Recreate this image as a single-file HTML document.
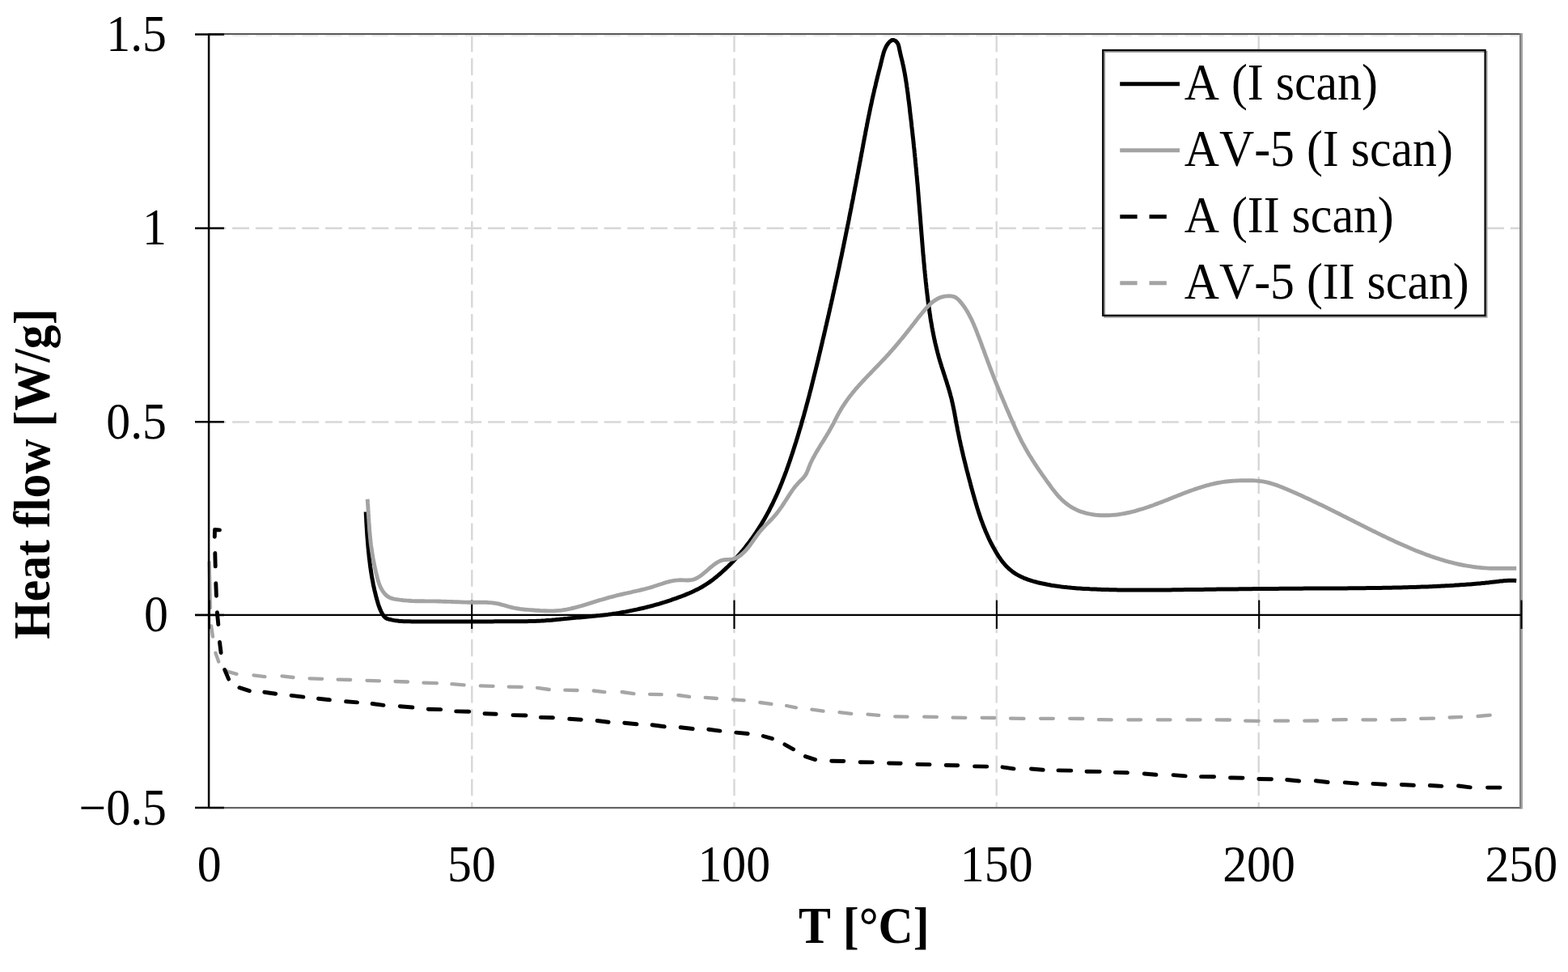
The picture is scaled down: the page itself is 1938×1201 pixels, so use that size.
<!DOCTYPE html>
<html lang="en"><head><meta charset="utf-8"><title>DSC heat flow</title>
<style>
html,body{margin:0;padding:0;background:#fff;}
body{width:1938px;height:1201px;overflow:hidden;}
svg{display:block;}
text{font-family:"Liberation Serif",serif;font-size:59.8px;fill:#000;font-kerning:none;font-variant-ligatures:none;}
.b{font-weight:bold;font-size:59.8px;}
</style></head>
<body>
<svg width="1938" height="1201" viewBox="0 0 1938 1201">
<rect width="1938" height="1201" fill="#fff"/>
<g fill="none" stroke-dasharray="20.9 7.82">
<path d="M258.4 282.0H1880.0" stroke="#d6d6d6" stroke-width="2.3"/>
<path d="M258.4 521.4H1880.0" stroke="#d8d8d8" stroke-width="2.5"/>
<path d="M583.3 43.4V998.0" stroke="#d8d8d8" stroke-width="2.4"/>
<path d="M907.5 43.4V998.0" stroke="#d8d8d8" stroke-width="2.4"/>
<path d="M1231.7 43.4V998.0" stroke="#d8d8d8" stroke-width="2.3"/>
<path d="M1555.7 43.4V998.0" stroke="#d4d4d4" stroke-width="2.2"/>
</g>
<path d="M258.6 694.8L260.0 751.2M261.1 773.5L263.0 786.5M266.4 806.7L270.2 817.5M280.9 829.7L292.5 832.8M313.5 834.4L327.4 836.1M348.5 835.4L362.4 837.0M382.6 838.3L398.2 838.8M417.6 839.7L433.2 840.0M453.5 840.8L469.0 841.3M488.5 842.0L504.0 842.5M523.5 843.7L539.9 844.2M558.4 845.1L573.6 846.4M593.8 847.4L609.6 847.8M628.8 848.6L644.8 848.8M664.0 849.9L678.7 852.0M698.3 852.6L713.6 853.0M733.7 853.5L747.4 855.1M768.7 855.0L783.4 857.1M803.0 857.8L817.7 858.2M838.4 859.0L852.0 860.9M871.7 861.8L885.8 863.0M906.0 864.4L919.6 865.4M939.3 868.0L953.4 869.9M972.1 872.0L983.9 874.3M1003.4 876.7L1017.5 878.6M1037.5 880.1L1052.2 881.8M1072.5 882.6L1086.2 883.8M1106.2 885.3L1121.5 885.7M1142.2 885.7L1157.9 885.9M1177.6 886.7L1193.3 886.9M1213.6 886.8L1229.2 887.0M1249.0 887.7L1265.5 887.9M1286.1 887.8L1301.9 887.8M1322.2 887.8L1338.3 888.0M1357.9 889.2L1373.7 889.4M1394.4 889.3L1410.1 889.3M1430.8 889.3L1446.5 889.3M1467.4 889.3L1483.6 889.3M1503.6 889.3L1520.0 889.5M1539.2 890.6L1555.7 890.8M1575.8 890.7L1592.1 890.7M1612.3 890.7L1628.2 890.5M1648.0 889.4L1663.8 889.2M1684.4 889.3L1700.2 889.3M1720.4 889.3L1736.4 889.1M1756.2 887.9L1772.0 887.7M1791.6 886.5L1806.1 885.8M1826.6 885.0L1841.7 883.7" stroke="#a6a6a6" stroke-width="4.3" stroke-linecap="round" stroke-linejoin="round" fill="none"/>
<path d="M258.4 44H1880.0" stroke="#e8e8e8" stroke-width="2" stroke-dasharray="20.3 8.42" fill="none"/>
<path d="M258.4 42H1882" stroke="#585858" stroke-width="2.2" fill="none"/>
<path d="M258.4 998.1H1882" stroke="#666" stroke-width="2.2" fill="none"/>
<path d="M1879 41V999.2" stroke="#808080" stroke-width="2" fill="none"/>
<path d="M1881 41V999.2" stroke="#a4a4a4" stroke-width="2" fill="none"/>
<g stroke="#000" fill="none">
<path d="M258.1 41.4V999.0" stroke-width="2.5"/>
<path d="M241.0 759.8H1880.0" stroke-width="2.3"/>
<path d="M241 42.5H277" stroke-width="2.5"/>
<path d="M241 281.9H277" stroke-width="2.5"/>
<path d="M241 521.3H277" stroke-width="2.5"/>
<path d="M241 759.9H277" stroke-width="2.5"/>
<path d="M241 998.1H277" stroke-width="2.5"/>
<path d="M258.9 741.6V777" stroke-width="2.1"/>
<path d="M583.2 741.6V777" stroke-width="2.1"/>
<path d="M907.5 741.6V777" stroke-width="2.1"/>
<path d="M1231.9 741.6V777" stroke-width="2.1"/>
<path d="M1556.2 741.6V777" stroke-width="2.1"/>
<path d="M1880.5 741.6V777" stroke-width="2.1"/>
</g>
<g fill="none" stroke-width="5.0" stroke-linejoin="round">
<path d="M271.5 654.9L265.5 654.5L265.3 663.2M265.8 683.5L266.2 699.9M266.8 720.8L267.4 736.2M268.4 756.8L269.8 771.5M271.5 793.5L273.1 806.5M277.7 827.5L282.6 839.1M295.9 849.7L308.3 853.7M326.8 855.3L340.7 857.2M360.1 859.4L374.9 861.1M393.5 863.2L407.4 864.8M427.6 866.8L441.5 867.9M460.1 869.5L474.0 871.4M494.3 872.7L509.9 874.0M529.3 876.3L544.7 876.6M563.7 878.9L579.8 879.3M599.0 881.7L613.1 882.3M634.0 883.6L650.0 884.0M668.3 886.4L683.5 886.8M703.7 888.3L718.2 889.2M738.1 890.5L752.1 892.2M771.8 893.2L786.9 894.7M806.1 895.7L821.2 897.8M841.1 898.8L856.2 900.5M875.8 901.2L889.9 903.1M909.8 905.1L924.2 906.5M943.3 909.5L954.5 912.7M969.9 919.9L980.6 925.8M995.4 934.6L1007.6 938.6M1027.7 940.3L1042.8 940.5M1063.1 941.7L1078.2 941.9M1098.5 943.0L1113.2 943.2M1133.8 944.4L1149.0 944.6M1169.2 945.5L1183.7 945.7M1204.6 946.9L1219.7 947.1M1239.0 947.8L1253.0 949.9M1274.5 950.0L1289.2 951.2M1308.0 951.9L1323.8 952.1M1343.0 953.2L1359.2 953.4M1378.3 954.4L1393.5 954.8M1414.3 956.0L1428.9 957.3M1450.1 957.6L1465.2 958.9M1484.5 959.6L1500.6 959.8M1520.5 961.0L1536.0 961.2M1555.8 962.5L1571.5 962.7M1590.7 963.5L1605.6 965.0M1626.3 964.8L1641.2 966.5M1662.2 966.9L1677.3 968.1M1696.9 968.4L1712.1 969.3M1732.3 969.5L1747.4 970.3M1767.3 970.5L1781.8 971.4M1802.5 971.0L1817.2 972.9M1838.5 973.1L1854.0 973.1" stroke="#000" stroke-width="4.9" stroke-linecap="round"/>
<path d="M452.2 632.5L452.3 635.0L452.4 637.5L452.6 640.0L452.7 642.5L452.8 645.0L453.0 647.5L453.1 650.0L453.3 652.5L453.4 655.0L453.6 657.5L453.7 660.0L453.9 662.5L454.1 665.0L454.3 667.4L454.5 669.9L454.7 672.4L454.9 674.9L455.1 677.4L455.4 679.9L455.6 682.4L455.9 684.9L456.1 687.4L456.4 689.9L456.7 692.3L457.0 694.8L457.3 697.3L457.6 699.8L458.0 702.3L458.3 704.7L458.7 707.2L459.1 709.7L459.5 712.2L459.9 714.6L460.4 717.1L460.9 719.5L461.3 722.0L461.8 724.4L462.4 726.9L462.9 729.3L463.5 731.7L464.1 734.2L464.7 736.6L465.3 739.0L466.0 741.4L466.7 743.8L467.4 746.2L468.2 748.6L469.1 751.0L470.0 753.3L471.0 755.6L472.2 757.8L473.5 760.0L475.0 762.0L476.9 763.6L479.1 764.6L481.5 765.3L484.0 765.9L486.4 766.4L488.9 766.8L491.4 767.1L493.8 767.4L496.3 767.5L498.8 767.7L501.3 767.7L503.8 767.8L506.3 767.8L508.9 767.9L511.4 767.9L513.9 767.9L516.4 767.9L518.9 768.0L521.4 768.0L523.9 768.0L526.4 768.0L528.9 768.0L531.4 768.0L533.9 768.1L536.4 768.1L538.9 768.1L541.4 768.1L543.9 768.1L546.4 768.1L548.9 768.1L551.4 768.1L553.9 768.1L556.4 768.1L558.9 768.1L561.4 768.1L563.9 768.1L566.4 768.1L568.9 768.0L571.4 768.0L573.9 768.0L576.4 768.0L578.9 768.0L581.4 768.0L583.9 768.0L586.4 768.0L588.9 768.0L591.4 767.9L593.9 767.9L596.4 767.9L598.9 767.9L601.4 767.9L603.9 767.9L606.4 767.9L608.9 767.9L611.4 767.8L613.9 767.8L616.4 767.8L618.9 767.8L621.4 767.8L623.9 767.8L626.4 767.8L628.9 767.8L631.4 767.8L633.9 767.8L636.4 767.8L638.9 767.8L641.4 767.8L643.9 767.7L646.4 767.7L648.9 767.7L651.4 767.7L653.9 767.6L656.4 767.6L658.9 767.5L661.4 767.4L663.9 767.3L666.4 767.2L668.9 767.1L671.4 766.9L673.9 766.8L676.4 766.6L678.9 766.4L681.4 766.2L683.9 765.9L686.4 765.7L688.9 765.4L691.4 765.2L693.8 764.9L696.3 764.7L698.8 764.4L701.3 764.2L703.8 763.9L706.3 763.7L708.8 763.5L711.3 763.3L713.8 763.1L716.2 762.9L718.7 762.7L721.2 762.4L723.7 762.2L726.2 762.0L728.7 761.8L731.2 761.6L733.7 761.3L736.1 761.1L738.6 760.8L741.1 760.6L743.6 760.3L746.1 760.0L748.6 759.7L751.0 759.4L753.5 759.0L756.0 758.7L758.5 758.3L761.0 758.0L763.4 757.6L765.9 757.2L768.4 756.7L770.8 756.3L773.3 755.9L775.8 755.4L778.2 754.9L780.7 754.4L783.1 753.9L785.6 753.4L788.0 752.9L790.5 752.3L792.9 751.8L795.4 751.2L797.8 750.6L800.2 750.0L802.7 749.4L805.1 748.8L807.5 748.1L809.9 747.4L812.3 746.8L814.7 746.1L817.1 745.3L819.5 744.6L821.9 743.9L824.3 743.1L826.7 742.3L829.0 741.6L831.4 740.7L833.8 739.9L836.1 739.1L838.5 738.2L840.8 737.4L843.1 736.5L845.5 735.6L847.8 734.6L850.1 733.7L852.4 732.7L854.7 731.7L856.9 730.7L859.2 729.6L861.4 728.5L863.6 727.4L865.8 726.2L868.0 725.0L870.1 723.7L872.2 722.4L874.3 721.0L876.4 719.6L878.5 718.1L880.5 716.7L882.5 715.1L884.5 713.6L886.4 712.0L888.3 710.3L890.3 708.7L892.2 707.0L894.0 705.3L895.9 703.6L897.7 701.9L899.5 700.2L901.3 698.4L903.1 696.7L904.8 694.9L906.6 693.1L908.3 691.2L910.0 689.4L911.6 687.5L913.3 685.7L914.9 683.8L916.5 681.9L918.1 680.0L919.7 678.0L921.3 676.1L922.8 674.1L924.3 672.1L925.8 670.2L927.3 668.1L928.8 666.1L930.2 664.1L931.7 662.0L933.1 660.0L934.5 657.9L935.8 655.8L937.2 653.7L938.5 651.6L939.9 649.5L941.2 647.4L942.4 645.2L943.7 643.1L945.0 640.9L946.2 638.8L947.4 636.6L948.6 634.4L949.8 632.2L951.0 630.0L952.1 627.7L953.2 625.5L954.4 623.3L955.5 621.0L956.5 618.8L957.6 616.5L958.7 614.2L959.7 612.0L960.7 609.7L961.7 607.4L962.7 605.1L963.7 602.8L964.6 600.5L965.6 598.1L966.5 595.8L967.4 593.5L968.3 591.2L969.2 588.8L970.1 586.5L971.0 584.1L971.9 581.8L972.7 579.4L973.5 577.1L974.4 574.7L975.2 572.3L976.0 570.0L976.8 567.6L977.6 565.2L978.4 562.8L979.2 560.5L980.0 558.1L980.7 555.7L981.5 553.3L982.3 550.9L983.0 548.5L983.8 546.2L984.5 543.8L985.3 541.4L986.0 539.0L986.7 536.6L987.4 534.2L988.1 531.8L988.9 529.4L989.6 527.0L990.3 524.6L990.9 522.2L991.6 519.8L992.3 517.4L993.0 515.0L993.7 512.6L994.3 510.2L995.0 507.8L995.7 505.4L996.3 502.9L997.0 500.5L997.6 498.1L998.3 495.7L998.9 493.3L999.6 490.9L1000.2 488.5L1000.8 486.0L1001.4 483.6L1002.1 481.2L1002.7 478.8L1003.3 476.4L1003.9 473.9L1004.5 471.5L1005.1 469.1L1005.7 466.7L1006.3 464.2L1006.9 461.8L1007.5 459.4L1008.1 457.0L1008.7 454.5L1009.3 452.1L1009.9 449.7L1010.5 447.2L1011.1 444.8L1011.7 442.4L1012.2 440.0L1012.8 437.5L1013.4 435.1L1014.0 432.7L1014.6 430.2L1015.1 427.8L1015.7 425.4L1016.3 422.9L1016.8 420.5L1017.4 418.0L1018.0 415.6L1018.6 413.2L1019.1 410.7L1019.7 408.3L1020.2 405.9L1020.8 403.4L1021.4 401.0L1021.9 398.6L1022.5 396.1L1023.1 393.7L1023.6 391.2L1024.2 388.8L1024.7 386.4L1025.3 383.9L1025.8 381.5L1026.4 379.0L1026.9 376.6L1027.5 374.1L1028.0 371.7L1028.6 369.3L1029.1 366.8L1029.6 364.4L1030.2 361.9L1030.7 359.5L1031.3 357.0L1031.8 354.6L1032.3 352.2L1032.9 349.7L1033.4 347.3L1033.9 344.8L1034.5 342.4L1035.0 339.9L1035.5 337.5L1036.0 335.0L1036.6 332.6L1037.1 330.2L1037.6 327.7L1038.1 325.3L1038.6 322.8L1039.1 320.4L1039.7 317.9L1040.2 315.5L1040.7 313.0L1041.2 310.6L1041.7 308.1L1042.2 305.7L1042.7 303.2L1043.2 300.8L1043.7 298.3L1044.2 295.9L1044.7 293.4L1045.2 291.0L1045.7 288.5L1046.2 286.1L1046.7 283.6L1047.2 281.2L1047.7 278.7L1048.2 276.3L1048.7 273.8L1049.2 271.4L1049.6 268.9L1050.1 266.5L1050.6 264.0L1051.1 261.6L1051.6 259.1L1052.1 256.7L1052.5 254.2L1053.0 251.8L1053.5 249.3L1054.0 246.9L1054.5 244.4L1054.9 242.0L1055.4 239.5L1055.9 237.0L1056.4 234.6L1056.8 232.1L1057.3 229.7L1057.8 227.2L1058.2 224.8L1058.7 222.3L1059.2 219.9L1059.6 217.4L1060.1 214.9L1060.6 212.5L1061.0 210.0L1061.5 207.6L1062.0 205.1L1062.4 202.6L1062.9 200.2L1063.4 197.7L1063.8 195.3L1064.3 192.8L1064.7 190.3L1065.2 187.9L1065.7 185.4L1066.1 182.9L1066.6 180.5L1067.0 178.0L1067.5 175.6L1068.0 173.1L1068.4 170.6L1068.9 168.2L1069.4 165.7L1069.8 163.3L1070.3 160.8L1070.8 158.3L1071.3 155.9L1071.7 153.4L1072.2 151.0L1072.7 148.5L1073.2 146.1L1073.7 143.6L1074.2 141.2L1074.7 138.7L1075.2 136.3L1075.7 133.8L1076.2 131.4L1076.8 128.9L1077.3 126.5L1077.8 124.1L1078.3 121.6L1078.9 119.2L1079.4 116.8L1080.0 114.3L1080.5 111.9L1081.1 109.5L1081.7 107.1L1082.3 104.6L1082.8 102.2L1083.4 99.8L1084.0 97.4L1084.6 94.9L1085.2 92.5L1085.8 90.1L1086.4 87.7L1087.1 85.2L1087.7 82.8L1088.3 80.3L1088.9 77.9L1089.5 75.4L1090.1 73.0L1090.7 70.5L1091.4 68.0L1092.0 65.6L1092.8 63.2L1093.7 60.9L1094.7 58.6L1095.8 56.5L1097.2 54.4L1098.7 52.5L1100.5 50.8L1102.6 49.5L1104.9 49.6L1107.2 50.8L1109.0 52.7L1110.2 54.9L1110.9 57.2L1111.4 59.7L1111.9 62.2L1112.5 64.7L1113.0 67.2L1113.6 69.6L1114.2 72.0L1114.8 74.4L1115.4 76.8L1115.9 79.3L1116.5 81.7L1117.0 84.2L1117.4 86.6L1117.9 89.1L1118.4 91.5L1118.8 94.0L1119.2 96.4L1119.6 98.9L1120.0 101.4L1120.4 103.8L1120.7 106.3L1121.1 108.8L1121.4 111.3L1121.8 113.7L1122.1 116.2L1122.4 118.7L1122.7 121.2L1123.0 123.7L1123.4 126.2L1123.7 128.6L1124.0 131.1L1124.3 133.6L1124.5 136.1L1124.8 138.6L1125.1 141.1L1125.4 143.6L1125.7 146.0L1126.0 148.5L1126.3 151.0L1126.6 153.5L1126.8 156.0L1127.1 158.5L1127.4 161.0L1127.7 163.4L1127.9 165.9L1128.2 168.4L1128.5 170.9L1128.8 173.4L1129.0 175.9L1129.3 178.4L1129.5 180.8L1129.8 183.3L1130.1 185.8L1130.3 188.3L1130.6 190.8L1130.8 193.3L1131.1 195.8L1131.3 198.3L1131.5 200.7L1131.8 203.2L1132.0 205.7L1132.3 208.2L1132.5 210.7L1132.7 213.2L1132.9 215.7L1133.2 218.2L1133.4 220.7L1133.6 223.2L1133.8 225.6L1134.1 228.1L1134.3 230.6L1134.5 233.1L1134.7 235.6L1134.9 238.1L1135.1 240.6L1135.3 243.1L1135.5 245.6L1135.7 248.1L1135.9 250.6L1136.1 253.1L1136.3 255.5L1136.5 258.0L1136.7 260.5L1136.9 263.0L1137.1 265.5L1137.3 268.0L1137.5 270.5L1137.7 273.0L1137.9 275.5L1138.1 278.0L1138.3 280.5L1138.5 283.0L1138.7 285.5L1138.9 288.0L1139.1 290.5L1139.3 293.0L1139.5 295.4L1139.7 297.9L1139.9 300.4L1140.1 302.9L1140.3 305.4L1140.5 307.9L1140.7 310.4L1140.9 312.9L1141.1 315.4L1141.4 317.9L1141.6 320.4L1141.8 322.9L1142.0 325.4L1142.3 327.8L1142.5 330.3L1142.7 332.8L1143.0 335.3L1143.2 337.8L1143.5 340.3L1143.7 342.8L1144.0 345.3L1144.2 347.8L1144.5 350.2L1144.8 352.7L1145.0 355.2L1145.3 357.7L1145.6 360.2L1145.9 362.7L1146.2 365.2L1146.5 367.6L1146.8 370.1L1147.1 372.6L1147.4 375.1L1147.8 377.6L1148.1 380.0L1148.5 382.5L1148.8 385.0L1149.2 387.5L1149.6 389.9L1149.9 392.4L1150.3 394.9L1150.7 397.3L1151.2 399.8L1151.6 402.3L1152.0 404.7L1152.5 407.2L1152.9 409.6L1153.4 412.1L1153.9 414.5L1154.4 417.0L1154.9 419.4L1155.5 421.9L1156.0 424.3L1156.6 426.7L1157.2 429.2L1157.8 431.6L1158.4 434.0L1159.0 436.4L1159.7 438.8L1160.3 441.2L1161.0 443.6L1161.7 446.0L1162.4 448.4L1163.2 450.8L1163.9 453.2L1164.7 455.6L1165.5 458.0L1166.2 460.4L1167.0 462.7L1167.8 465.1L1168.5 467.5L1169.3 469.9L1170.1 472.3L1170.8 474.7L1171.6 477.1L1172.3 479.5L1173.0 481.9L1173.7 484.3L1174.4 486.7L1175.0 489.1L1175.7 491.5L1176.3 493.9L1176.8 496.4L1177.4 498.8L1177.9 501.2L1178.4 503.7L1178.9 506.1L1179.4 508.6L1179.9 511.0L1180.3 513.5L1180.8 516.0L1181.2 518.4L1181.7 520.9L1182.1 523.4L1182.6 525.8L1183.1 528.3L1183.5 530.7L1184.0 533.2L1184.5 535.6L1185.0 538.1L1185.5 540.5L1186.0 543.0L1186.6 545.4L1187.1 547.9L1187.6 550.3L1188.2 552.7L1188.7 555.2L1189.3 557.6L1189.9 560.1L1190.4 562.5L1191.0 564.9L1191.6 567.3L1192.2 569.8L1192.8 572.2L1193.4 574.6L1194.0 577.1L1194.6 579.5L1195.2 581.9L1195.9 584.3L1196.5 586.7L1197.1 589.2L1197.8 591.6L1198.4 594.0L1199.1 596.4L1199.7 598.9L1200.3 601.3L1201.0 603.7L1201.7 606.1L1202.3 608.5L1203.0 610.9L1203.7 613.3L1204.4 615.8L1205.1 618.2L1205.8 620.6L1206.5 623.0L1207.2 625.4L1207.9 627.8L1208.7 630.1L1209.4 632.5L1210.2 634.9L1211.0 637.3L1211.8 639.6L1212.6 642.0L1213.5 644.3L1214.4 646.7L1215.2 649.0L1216.1 651.3L1217.1 653.6L1218.0 656.0L1219.0 658.3L1220.0 660.5L1221.0 662.8L1222.0 665.1L1223.1 667.3L1224.2 669.6L1225.3 671.8L1226.5 674.0L1227.7 676.2L1228.9 678.4L1230.1 680.6L1231.4 682.8L1232.7 684.9L1234.1 687.1L1235.5 689.1L1236.9 691.2L1238.4 693.2L1239.9 695.2L1241.6 697.1L1243.2 699.0L1245.0 700.8L1246.8 702.5L1248.7 704.1L1250.6 705.7L1252.6 707.2L1254.7 708.6L1256.8 709.9L1259.0 711.1L1261.2 712.2L1263.5 713.3L1265.7 714.3L1268.0 715.2L1270.4 716.1L1272.8 716.9L1275.1 717.7L1277.6 718.4L1280.0 719.0L1282.4 719.7L1284.9 720.2L1287.3 720.8L1289.8 721.3L1292.2 721.8L1294.7 722.3L1297.2 722.7L1299.6 723.2L1302.1 723.6L1304.6 723.9L1307.0 724.3L1309.5 724.6L1312.0 725.0L1314.5 725.3L1317.0 725.5L1319.5 725.8L1321.9 726.0L1324.4 726.3L1326.9 726.5L1329.4 726.7L1331.9 726.9L1334.4 727.0L1336.9 727.2L1339.4 727.4L1341.9 727.5L1344.4 727.6L1346.9 727.8L1349.4 727.9L1351.9 728.0L1354.4 728.1L1356.9 728.2L1359.3 728.3L1361.8 728.4L1364.3 728.5L1366.8 728.5L1369.3 728.6L1371.8 728.7L1374.3 728.7L1376.8 728.8L1379.3 728.8L1381.8 728.9L1384.3 728.9L1386.8 729.0L1389.3 729.0L1391.8 729.0L1394.3 729.0L1396.8 729.1L1399.4 729.1L1401.9 729.1L1404.4 729.1L1406.9 729.1L1409.4 729.1L1411.9 729.1L1414.4 729.1L1416.9 729.1L1419.4 729.1L1421.9 729.1L1424.4 729.1L1426.9 729.0L1429.4 729.0L1431.9 729.0L1434.4 729.0L1436.9 729.0L1439.4 728.9L1441.9 728.9L1444.4 728.9L1446.9 728.9L1449.4 728.8L1451.9 728.8L1454.4 728.8L1456.9 728.7L1459.4 728.7L1461.9 728.7L1464.4 728.6L1466.9 728.6L1469.4 728.6L1471.9 728.5L1474.4 728.5L1476.9 728.5L1479.4 728.5L1481.9 728.4L1484.4 728.4L1486.9 728.4L1489.4 728.3L1491.9 728.3L1494.4 728.3L1496.9 728.2L1499.4 728.2L1501.9 728.2L1504.4 728.1L1506.9 728.1L1509.4 728.1L1511.9 728.1L1514.4 728.0L1516.9 728.0L1519.4 728.0L1521.9 727.9L1524.4 727.9L1526.9 727.9L1529.4 727.9L1531.9 727.8L1534.4 727.8L1536.9 727.8L1539.4 727.7L1541.9 727.7L1544.4 727.7L1546.9 727.7L1549.4 727.6L1551.9 727.6L1554.4 727.6L1556.9 727.6L1559.4 727.5L1561.9 727.5L1564.4 727.5L1566.9 727.5L1569.4 727.4L1571.9 727.4L1574.4 727.4L1576.9 727.4L1579.4 727.4L1581.9 727.3L1584.4 727.3L1586.9 727.3L1589.4 727.3L1591.9 727.3L1594.4 727.2L1596.9 727.2L1599.4 727.2L1601.9 727.2L1604.4 727.2L1606.9 727.2L1609.4 727.2L1611.9 727.1L1614.4 727.1L1616.9 727.1L1619.4 727.1L1621.9 727.1L1624.4 727.1L1626.9 727.1L1629.4 727.1L1631.9 727.0L1634.4 727.0L1636.9 727.0L1639.5 727.0L1642.0 727.0L1644.5 727.0L1647.0 727.0L1649.5 727.0L1652.0 726.9L1654.5 726.9L1657.0 726.9L1659.5 726.9L1662.0 726.9L1664.5 726.9L1667.0 726.8L1669.5 726.8L1672.0 726.8L1674.5 726.8L1677.0 726.8L1679.5 726.7L1682.0 726.7L1684.5 726.7L1687.0 726.7L1689.5 726.6L1692.0 726.6L1694.5 726.6L1697.0 726.5L1699.5 726.5L1702.0 726.5L1704.5 726.4L1707.0 726.4L1709.5 726.3L1712.0 726.3L1714.5 726.3L1717.0 726.2L1719.5 726.2L1722.0 726.1L1724.5 726.1L1727.0 726.0L1729.5 725.9L1732.0 725.9L1734.5 725.8L1737.0 725.8L1739.5 725.7L1742.0 725.6L1744.5 725.5L1747.0 725.5L1749.5 725.4L1752.0 725.3L1754.5 725.2L1757.0 725.1L1759.5 725.0L1762.0 725.0L1764.5 724.9L1767.0 724.8L1769.5 724.7L1772.0 724.5L1774.5 724.4L1777.0 724.3L1779.5 724.2L1782.0 724.1L1784.5 724.0L1787.0 723.8L1789.5 723.7L1792.0 723.6L1794.4 723.4L1796.9 723.3L1799.4 723.1L1801.9 723.0L1804.4 722.8L1806.9 722.6L1809.4 722.5L1811.9 722.3L1814.4 722.1L1816.9 721.9L1819.4 721.7L1821.9 721.5L1824.4 721.3L1826.9 721.1L1829.3 720.9L1831.8 720.6L1834.3 720.4L1836.8 720.1L1839.3 719.9L1841.8 719.6L1844.3 719.3L1846.8 719.0L1849.3 718.7L1851.7 718.4L1854.2 718.1L1856.7 717.9L1859.2 717.6L1861.7 717.4L1864.2 717.3L1866.7 717.2L1869.2 717.2L1871.7 717.3L1874.2 717.5" stroke="#000" stroke-linecap="butt"/>
<path d="M454.2 616.7L454.4 619.2L454.5 621.7L454.7 624.2L454.9 626.7L455.0 629.2L455.2 631.7L455.3 634.2L455.5 636.7L455.6 639.2L455.8 641.7L455.9 644.2L456.1 646.7L456.3 649.2L456.5 651.7L456.6 654.1L456.8 656.6L457.1 659.1L457.3 661.6L457.5 664.1L457.8 666.6L458.0 669.1L458.3 671.6L458.6 674.1L459.0 676.5L459.3 679.0L459.7 681.5L460.1 684.0L460.5 686.4L460.9 688.9L461.4 691.4L461.8 693.8L462.3 696.3L462.8 698.7L463.3 701.2L463.9 703.6L464.4 706.1L465.0 708.5L465.6 710.9L466.2 713.3L466.8 715.7L467.5 718.1L468.3 720.5L469.2 722.9L470.1 725.2L471.3 727.5L472.5 729.7L474.0 731.8L475.6 733.8L477.3 735.5L479.2 737.0L481.3 738.2L483.6 739.1L486.0 739.8L488.5 740.3L491.0 740.7L493.5 741.1L496.1 741.4L498.6 741.7L501.1 741.9L503.6 742.1L506.1 742.3L508.6 742.5L511.1 742.6L513.6 742.7L516.1 742.7L518.6 742.8L521.1 742.8L523.6 742.8L526.1 742.9L528.6 742.9L531.1 742.9L533.5 742.9L536.0 742.9L538.5 742.9L541.0 743.0L543.5 743.0L546.0 743.1L548.5 743.2L551.0 743.3L553.5 743.4L556.0 743.4L558.5 743.5L561.0 743.6L563.5 743.7L566.0 743.8L568.5 743.9L571.0 744.0L573.5 744.1L576.0 744.1L578.5 744.2L581.0 744.2L583.6 744.3L586.1 744.3L588.6 744.2L591.1 744.2L593.6 744.2L596.1 744.2L598.6 744.3L601.1 744.3L603.6 744.5L606.1 744.6L608.6 744.9L611.0 745.2L613.5 745.6L615.9 746.0L618.4 746.6L620.8 747.3L623.2 747.9L625.6 748.6L628.0 749.3L630.4 750.0L632.8 750.6L635.3 751.2L637.7 751.6L640.2 752.0L642.6 752.4L645.1 752.7L647.6 753.0L650.1 753.2L652.6 753.4L655.1 753.6L657.6 753.8L660.1 754.0L662.6 754.2L665.1 754.3L667.6 754.5L670.2 754.6L672.7 754.8L675.2 754.8L677.7 754.9L680.3 754.9L682.8 754.9L685.3 754.8L687.8 754.6L690.2 754.4L692.7 754.2L695.2 753.9L697.6 753.5L700.1 753.1L702.5 752.6L705.0 752.1L707.4 751.5L709.8 751.0L712.2 750.3L714.7 749.7L717.1 749.0L719.5 748.3L721.9 747.6L724.3 746.9L726.7 746.1L729.1 745.4L731.5 744.6L733.8 743.9L736.2 743.1L738.6 742.4L741.0 741.7L743.4 741.0L745.8 740.3L748.3 739.6L750.7 738.9L753.1 738.2L755.5 737.6L757.9 737.0L760.3 736.3L762.7 735.7L765.2 735.1L767.6 734.5L770.0 734.0L772.4 733.4L774.9 732.9L777.3 732.3L779.8 731.8L782.2 731.2L784.6 730.7L787.1 730.1L789.5 729.6L791.9 729.0L794.4 728.4L796.8 727.8L799.2 727.2L801.7 726.5L804.1 725.8L806.5 725.1L808.9 724.3L811.3 723.5L813.7 722.7L816.1 722.0L818.5 721.2L820.9 720.4L823.3 719.7L825.7 719.0L828.1 718.4L830.5 717.9L833.0 717.4L835.5 717.1L838.0 716.9L840.5 716.8L843.0 716.8L845.6 716.9L848.1 717.0L850.6 717.0L853.1 716.8L855.5 716.4L857.9 715.8L860.2 714.9L862.4 713.7L864.6 712.3L866.6 710.9L868.6 709.3L870.6 707.7L872.5 706.1L874.4 704.5L876.2 702.8L878.1 701.2L880.1 699.6L882.0 698.0L884.1 696.5L886.2 695.1L888.4 693.9L890.7 692.8L893.0 692.1L895.5 691.6L898.0 691.5L900.5 691.4L903.0 691.3L905.5 690.9L907.8 690.2L910.1 689.3L912.3 688.1L914.4 686.7L916.4 685.2L918.3 683.5L920.1 681.8L921.9 679.9L923.6 677.9L925.2 676.0L926.7 674.0L928.2 671.9L929.7 669.9L931.1 667.8L932.5 665.8L934.0 663.8L935.4 661.7L936.9 659.8L938.4 657.8L939.9 655.9L941.6 654.0L943.2 652.2L945.0 650.4L946.7 648.6L948.5 646.8L950.3 645.0L952.0 643.2L953.8 641.4L955.5 639.6L957.2 637.7L958.8 635.8L960.4 633.9L961.9 631.9L963.4 629.9L964.8 627.9L966.3 625.8L967.7 623.7L969.0 621.6L970.4 619.5L971.8 617.4L973.1 615.3L974.5 613.2L975.8 611.1L977.2 609.0L978.6 606.9L980.0 604.9L981.5 602.9L983.1 600.9L984.7 599.0L986.4 597.1L988.1 595.3L989.9 593.5L991.7 591.7L993.4 589.9L994.9 587.9L996.2 585.9L997.3 583.6L998.3 581.3L999.2 579.0L1000.1 576.6L1001.0 574.3L1002.0 572.0L1003.1 569.7L1004.2 567.5L1005.4 565.2L1006.6 563.1L1007.8 560.9L1009.0 558.7L1010.3 556.6L1011.6 554.4L1012.9 552.3L1014.2 550.1L1015.5 548.0L1016.9 545.9L1018.2 543.7L1019.5 541.6L1020.8 539.5L1022.1 537.3L1023.4 535.2L1024.7 533.0L1025.9 530.9L1027.1 528.7L1028.3 526.5L1029.5 524.3L1030.7 522.1L1031.8 519.9L1032.9 517.7L1034.1 515.5L1035.2 513.2L1036.4 511.1L1037.6 508.9L1038.9 506.7L1040.2 504.5L1041.5 502.4L1042.9 500.3L1044.3 498.2L1045.7 496.1L1047.1 494.1L1048.6 492.1L1050.1 490.0L1051.7 488.1L1053.2 486.1L1054.8 484.2L1056.4 482.3L1058.0 480.3L1059.7 478.5L1061.3 476.6L1063.0 474.7L1064.7 472.9L1066.4 471.0L1068.1 469.2L1069.8 467.4L1071.5 465.6L1073.2 463.8L1075.0 462.0L1076.7 460.2L1078.4 458.4L1080.2 456.6L1081.9 454.8L1083.7 453.0L1085.4 451.2L1087.1 449.4L1088.9 447.6L1090.6 445.8L1092.3 444.0L1094.0 442.2L1095.7 440.3L1097.4 438.5L1099.1 436.6L1100.7 434.7L1102.4 432.9L1104.0 431.0L1105.7 429.1L1107.3 427.2L1108.9 425.3L1110.5 423.4L1112.1 421.4L1113.7 419.5L1115.3 417.6L1116.9 415.6L1118.5 413.7L1120.0 411.7L1121.6 409.8L1123.1 407.8L1124.7 405.9L1126.2 403.9L1127.8 401.9L1129.3 399.9L1130.8 398.0L1132.3 396.0L1133.9 394.0L1135.4 392.1L1137.0 390.1L1138.6 388.2L1140.2 386.2L1141.8 384.3L1143.4 382.4L1145.1 380.5L1146.8 378.7L1148.6 376.9L1150.4 375.1L1152.3 373.5L1154.2 372.0L1156.3 370.6L1158.4 369.3L1160.6 368.3L1162.9 367.3L1165.3 366.6L1167.9 366.1L1170.4 365.9L1173.0 365.8L1175.6 365.9L1178.1 366.3L1180.4 367.1L1182.4 368.3L1184.3 370.0L1186.0 371.8L1187.6 373.7L1189.2 375.6L1190.7 377.6L1192.1 379.6L1193.5 381.7L1194.8 383.8L1196.1 385.9L1197.3 388.1L1198.5 390.3L1199.6 392.5L1200.7 394.7L1201.8 397.0L1202.8 399.3L1203.8 401.6L1204.8 403.9L1205.8 406.3L1206.7 408.6L1207.6 411.0L1208.5 413.3L1209.4 415.7L1210.3 418.0L1211.2 420.4L1212.1 422.7L1213.0 425.1L1213.8 427.4L1214.7 429.8L1215.6 432.1L1216.4 434.5L1217.3 436.8L1218.1 439.1L1219.0 441.5L1219.9 443.8L1220.7 446.2L1221.6 448.5L1222.5 450.8L1223.3 453.2L1224.2 455.5L1225.1 457.8L1226.0 460.2L1226.9 462.5L1227.8 464.8L1228.7 467.1L1229.6 469.5L1230.5 471.8L1231.5 474.1L1232.4 476.4L1233.3 478.7L1234.3 481.1L1235.3 483.4L1236.2 485.7L1237.2 488.0L1238.1 490.3L1239.1 492.6L1240.1 494.9L1241.1 497.3L1242.1 499.6L1243.0 501.9L1244.0 504.2L1245.0 506.5L1246.0 508.8L1247.0 511.1L1248.0 513.4L1249.0 515.7L1250.0 518.0L1251.0 520.2L1252.0 522.5L1253.0 524.8L1254.0 527.1L1255.0 529.4L1256.1 531.6L1257.1 533.9L1258.2 536.1L1259.3 538.4L1260.4 540.6L1261.5 542.9L1262.6 545.1L1263.8 547.3L1265.0 549.5L1266.2 551.7L1267.4 553.9L1268.6 556.0L1269.9 558.2L1271.2 560.4L1272.4 562.5L1273.8 564.6L1275.1 566.8L1276.4 568.9L1277.8 571.0L1279.1 573.1L1280.5 575.2L1281.9 577.3L1283.3 579.4L1284.7 581.5L1286.2 583.5L1287.6 585.6L1289.0 587.6L1290.5 589.7L1291.9 591.7L1293.4 593.8L1294.8 595.8L1296.3 597.8L1297.8 599.8L1299.2 601.9L1300.7 603.9L1302.2 605.8L1303.8 607.8L1305.3 609.7L1306.9 611.6L1308.6 613.5L1310.3 615.3L1312.0 617.0L1313.8 618.7L1315.7 620.4L1317.7 622.0L1319.7 623.5L1321.8 625.0L1323.9 626.3L1326.1 627.6L1328.3 628.8L1330.6 629.9L1332.9 630.9L1335.2 631.9L1337.6 632.7L1340.0 633.4L1342.4 634.1L1344.8 634.7L1347.3 635.2L1349.8 635.6L1352.3 636.0L1354.8 636.3L1357.3 636.5L1359.8 636.7L1362.3 636.8L1364.8 636.8L1367.3 636.8L1369.8 636.7L1372.2 636.6L1374.7 636.4L1377.2 636.2L1379.7 636.0L1382.1 635.7L1384.6 635.3L1387.0 634.9L1389.4 634.5L1391.9 634.0L1394.3 633.5L1396.7 633.0L1399.1 632.4L1401.6 631.8L1404.0 631.1L1406.4 630.4L1408.8 629.7L1411.2 629.0L1413.6 628.3L1415.9 627.5L1418.3 626.7L1420.7 625.9L1423.1 625.0L1425.5 624.2L1427.8 623.3L1430.2 622.4L1432.5 621.5L1434.9 620.6L1437.3 619.7L1439.6 618.8L1442.0 617.9L1444.3 616.9L1446.7 616.0L1449.0 615.1L1451.3 614.1L1453.7 613.2L1456.0 612.3L1458.4 611.4L1460.7 610.4L1463.0 609.5L1465.4 608.6L1467.7 607.8L1470.1 606.9L1472.4 606.0L1474.8 605.2L1477.1 604.4L1479.5 603.6L1481.8 602.8L1484.2 602.1L1486.6 601.3L1488.9 600.6L1491.3 599.9L1493.7 599.3L1496.1 598.7L1498.5 598.1L1501.0 597.5L1503.4 597.0L1505.8 596.5L1508.3 596.1L1510.7 595.7L1513.2 595.3L1515.7 595.0L1518.2 594.7L1520.7 594.5L1523.2 594.3L1525.7 594.1L1528.2 594.0L1530.7 593.9L1533.2 593.8L1535.8 593.7L1538.3 593.7L1540.8 593.7L1543.3 593.7L1545.8 593.7L1548.3 593.8L1550.8 593.9L1553.3 594.1L1555.8 594.3L1558.3 594.6L1560.7 594.9L1563.2 595.4L1565.6 595.9L1568.0 596.5L1570.4 597.1L1572.8 597.9L1575.2 598.6L1577.6 599.4L1579.9 600.3L1582.3 601.2L1584.6 602.1L1586.9 603.1L1589.3 604.0L1591.6 605.0L1593.9 606.0L1596.2 607.0L1598.5 608.0L1600.8 609.0L1603.1 610.0L1605.4 611.1L1607.7 612.1L1609.9 613.1L1612.2 614.2L1614.5 615.2L1616.8 616.3L1619.0 617.3L1621.3 618.4L1623.5 619.4L1625.8 620.5L1628.0 621.6L1630.3 622.7L1632.5 623.7L1634.8 624.8L1637.0 625.9L1639.3 627.0L1641.5 628.1L1643.7 629.2L1646.0 630.4L1648.2 631.5L1650.5 632.6L1652.7 633.7L1654.9 634.8L1657.2 636.0L1659.4 637.1L1661.6 638.2L1663.9 639.3L1666.1 640.5L1668.3 641.6L1670.6 642.7L1672.8 643.8L1675.0 645.0L1677.3 646.1L1679.5 647.2L1681.7 648.4L1684.0 649.5L1686.2 650.6L1688.4 651.7L1690.7 652.9L1692.9 654.0L1695.2 655.1L1697.4 656.2L1699.6 657.3L1701.9 658.4L1704.1 659.5L1706.4 660.6L1708.6 661.7L1710.9 662.8L1713.2 663.9L1715.4 664.9L1717.7 666.0L1719.9 667.1L1722.2 668.1L1724.5 669.2L1726.8 670.2L1729.0 671.3L1731.3 672.3L1733.6 673.3L1735.9 674.3L1738.2 675.3L1740.5 676.3L1742.8 677.3L1745.1 678.3L1747.4 679.2L1749.7 680.2L1752.1 681.1L1754.4 682.0L1756.7 682.9L1759.0 683.8L1761.4 684.7L1763.7 685.6L1766.1 686.4L1768.4 687.3L1770.8 688.1L1773.2 688.9L1775.5 689.7L1777.9 690.4L1780.3 691.2L1782.7 691.9L1785.1 692.6L1787.5 693.3L1789.9 694.0L1792.3 694.6L1794.7 695.2L1797.1 695.8L1799.6 696.4L1802.0 697.0L1804.5 697.5L1806.9 698.0L1809.4 698.5L1811.8 698.9L1814.3 699.3L1816.8 699.7L1819.3 700.1L1821.7 700.5L1824.2 700.8L1826.7 701.1L1829.2 701.3L1831.7 701.6L1834.2 701.8L1836.7 701.9L1839.2 702.1L1841.7 702.2L1844.2 702.2L1846.7 702.3L1849.2 702.3L1851.7 702.3L1854.2 702.3L1856.7 702.3L1859.2 702.3L1861.7 702.3L1864.2 702.3L1866.7 702.3L1869.2 702.3L1871.7 702.3L1874.2 702.3" stroke="#a3a3a3" stroke-width="4.9" stroke-linecap="butt"/>
</g>
<rect x="1365.1" y="63.9" width="472.4" height="327.8" fill="#fff" stroke="#9c9c9c" stroke-width="2"/>
<rect x="1363.2" y="62.0" width="472.4" height="327.8" fill="none" stroke="#0a0a0a" stroke-width="2.3"/>
<path d="M1384.2 103.8H1458" stroke="#000" stroke-width="5.0" fill="none"/>
<text transform="translate(1463.8 122.9) scale(1 1.055)">A (I scan)</text>
<path d="M1384.2 185.8H1458" stroke="#a3a3a3" stroke-width="5.0" fill="none"/>
<text transform="translate(1463.8 204.9) scale(1 1.055)">AV-5 (I scan)</text>
<path d="M1384.3 267.7H1405.6M1420.5 267.7H1441.8" stroke="#000" stroke-width="5.1" fill="none"/>
<text transform="translate(1463.8 286.8) scale(1 1.055)">A (II scan)</text>
<path d="M1384.3 349.8H1405.6M1420.5 349.8H1441.8" stroke="#a3a3a3" stroke-width="5.1" fill="none"/>
<text transform="translate(1463.8 368.9) scale(1 1.055)">AV-5 (II scan)</text>
<text transform="translate(206.0 62.9) scale(1 1.055)" text-anchor="end">1.5</text>
<text transform="translate(206.0 302.3) scale(1 1.055)" text-anchor="end">1</text>
<text transform="translate(206.0 541.7) scale(1 1.055)" text-anchor="end">0.5</text>
<text transform="translate(208.0 780.3) scale(1 1.055)" text-anchor="end">0</text>
<text transform="translate(206.0 1018.5) scale(1 1.055)" text-anchor="end">−0.5</text>
<text transform="translate(258.7 1088.6) scale(1 1.055)" text-anchor="middle">0</text>
<text transform="translate(583.0 1088.6) scale(1 1.055)" text-anchor="middle">50</text>
<text transform="translate(907.3 1088.6) scale(1 1.055)" text-anchor="middle">100</text>
<text transform="translate(1231.7 1088.6) scale(1 1.055)" text-anchor="middle">150</text>
<text transform="translate(1556.0 1088.6) scale(1 1.055)" text-anchor="middle">200</text>
<text transform="translate(1880.3 1088.6) scale(1 1.055)" text-anchor="middle">250</text>
<text class="b" transform="translate(1067.8 1165.3) scale(1 1.055)" text-anchor="middle">T [°C]</text>
<text class="b" transform="translate(60.6 585.6) rotate(-90) scale(1 1.055)" text-anchor="middle">Heat flow [W/g]</text>
</svg>
</body></html>
